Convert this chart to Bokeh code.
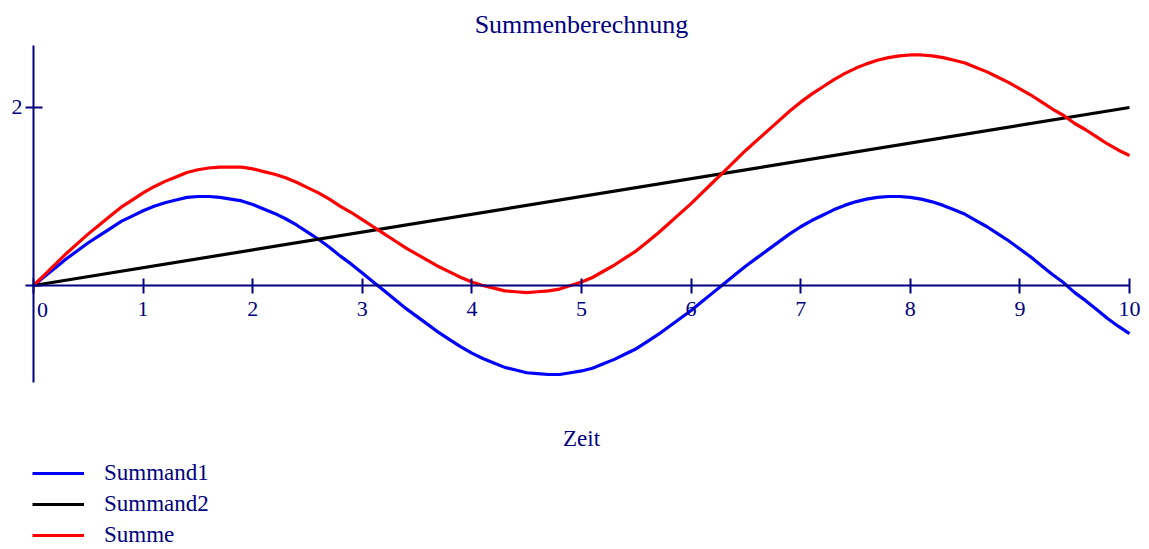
from bokeh.plotting import figure
from bokeh.models import LinearAxis, FixedTicker, Legend, LegendItem, Label, Range1d
from bokeh.embed import file_html
from bokeh.resources import INLINE

# ---- data ----
t = [0.0, 0.1, 0.2, 0.3, 0.4, 0.5, 0.6, 0.7, 0.8, 0.9,
     1.0, 1.1, 1.2, 1.3, 1.4, 1.5, 1.6, 1.7, 1.8, 1.9,
     2.0, 2.1, 2.2, 2.3, 2.4, 2.5, 2.6, 2.7, 2.8, 2.9,
     3.0, 3.1, 3.2, 3.3, 3.4, 3.5, 3.6, 3.7, 3.8, 3.9,
     4.0, 4.1, 4.2, 4.3, 4.4, 4.5, 4.6, 4.7, 4.8, 4.9,
     5.0, 5.1, 5.2, 5.3, 5.4, 5.5, 5.6, 5.7, 5.8, 5.9,
     6.0, 6.1, 6.2, 6.3, 6.4, 6.5, 6.6, 6.7, 6.8, 6.9,
     7.0, 7.1, 7.2, 7.3, 7.4, 7.5, 7.6, 7.7, 7.8, 7.9,
     8.0, 8.1, 8.2, 8.3, 8.4, 8.5, 8.6, 8.7, 8.8, 8.9,
     9.0, 9.1, 9.2, 9.3, 9.4, 9.5, 9.6, 9.7, 9.8, 9.9, 10.0]
summand1 = [0.00, 0.10, 0.20, 0.30, 0.39, 0.48, 0.56, 0.64, 0.72, 0.78,
            0.84, 0.89, 0.93, 0.96, 0.99, 1.00, 1.00, 0.99, 0.97, 0.95,
            0.91, 0.86, 0.81, 0.75, 0.68, 0.60, 0.52, 0.43, 0.33, 0.24,
            0.14, 0.04, -0.06, -0.16, -0.26, -0.35, -0.44, -0.53, -0.61, -0.69,
            -0.76, -0.82, -0.87, -0.92, -0.95, -0.98, -0.99, -1.00, -1.00, -0.98,
            -0.96, -0.93, -0.88, -0.83, -0.77, -0.71, -0.63, -0.55, -0.46, -0.37,
            -0.28, -0.18, -0.08, 0.02, 0.12, 0.22, 0.31, 0.40, 0.49, 0.58,
            0.66, 0.73, 0.79, 0.85, 0.90, 0.94, 0.97, 0.99, 1.00, 1.00,
            0.99, 0.97, 0.94, 0.90, 0.85, 0.80, 0.73, 0.66, 0.58, 0.50,
            0.41, 0.32, 0.22, 0.12, 0.03, -0.08, -0.17, -0.27, -0.37, -0.46, -0.54]
t2 = [0.0, 10.0]
summand2 = [0.0, 2.0]
summe = [0.00, 0.12, 0.24, 0.36, 0.47, 0.58, 0.68, 0.78, 0.88, 0.96,
         1.04, 1.11, 1.17, 1.22, 1.27, 1.30, 1.32, 1.33, 1.33, 1.33,
         1.31, 1.28, 1.25, 1.21, 1.16, 1.10, 1.04, 0.97, 0.89, 0.82,
         0.74, 0.66, 0.58, 0.50, 0.42, 0.35, 0.28, 0.21, 0.15, 0.09,
         0.04, 0.00, -0.03, -0.06, -0.07, -0.08, -0.07, -0.06, -0.04, 0.00,
         0.04, 0.09, 0.16, 0.23, 0.31, 0.39, 0.49, 0.59, 0.70, 0.81,
         0.92, 1.04, 1.16, 1.28, 1.40, 1.52, 1.63, 1.74, 1.85, 1.96,
         2.06, 2.15, 2.23, 2.31, 2.38, 2.44, 2.49, 2.53, 2.56, 2.58,
         2.59, 2.59, 2.58, 2.56, 2.53, 2.50, 2.45, 2.40, 2.34, 2.28,
         2.21, 2.14, 2.06, 1.98, 1.91, 1.82, 1.75, 1.67, 1.59, 1.52, 1.46]
x_ticks = [0, 1, 2, 3, 4, 5, 6, 7, 8, 9, 10]
y_ticks = [0, 2]
series_names = ["Summand1", "Summand2", "Summe"]
title_text = "Summenberechnung"
x_label = "Zeit"

NAVY = "#000080"
FONT = "Liberation Serif"

# frame covers the whole canvas; x=0 at 33px, x=10 at 1129px, y=0 at 285px, y=2 at 107px
p = figure(width=1149, height=549,
           x_range=Range1d(-0.3011, 10.1825), y_range=Range1d(-2.966, 3.202),
           x_axis_type=None, y_axis_type=None, title=None,
           output_backend="svg", toolbar_location=None,
           min_border_left=0, min_border_right=0,
           min_border_top=0, min_border_bottom=0)
p.outline_line_color = None
p.background_fill_color = "white"

xa = LinearAxis(fixed_location=0, ticker=FixedTicker(ticks=x_ticks), bounds=(0, 10),
                major_label_overrides={0: ""})
xa.axis_line_color = NAVY
xa.axis_line_width = 2
xa.major_tick_line_color = NAVY
xa.major_tick_line_width = 2
xa.major_tick_in = 7
xa.major_tick_out = 8
xa.minor_tick_line_color = None
xa.major_label_text_font = FONT
xa.major_label_text_font_size = "22px"
xa.major_label_text_color = NAVY
xa.major_label_standoff = 8
p.add_layout(xa, "below")

ya = LinearAxis(fixed_location=0, ticker=FixedTicker(ticks=y_ticks), bounds=(-1.09, 2.697),
                major_label_overrides={0: ""})
ya.axis_line_color = NAVY
ya.axis_line_width = 2
ya.major_tick_line_color = NAVY
ya.major_tick_line_width = 2
ya.major_tick_in = 9
ya.major_tick_out = 8
ya.minor_tick_line_color = None
ya.major_label_text_font = FONT
ya.major_label_text_font_size = "22px"
ya.major_label_text_color = NAVY
ya.major_label_standoff = 3
p.add_layout(ya, "left")

r1 = p.line(t, summand1, line_color="#0000ff", line_width=3.2, line_join="round")
r2 = p.line(t2, summand2, line_color="#000000", line_width=3.2, line_join="round")
r3 = p.line(t, summe, line_color="#ff0000", line_width=3.2, line_join="round")

title_lbl = Label(x=5.0, y=2.933, text=title_text, text_align="center",
                  text_baseline="middle", text_font=FONT, text_font_size="26px",
                  text_color=NAVY)
p.add_layout(title_lbl)

zero_lbl = Label(x=0, y=-0.27, x_offset=9, text="0", text_align="center",
                 text_baseline="middle", text_font=FONT, text_font_size="22px",
                 text_color=NAVY)
p.add_layout(zero_lbl)

zeit = Label(x=5.0, y=-1.719, text=x_label, text_align="center", text_baseline="middle",
             text_font=FONT, text_font_size="23px", text_color=NAVY)
p.add_layout(zeit)

legend = Legend(items=[LegendItem(label=series_names[0], renderers=[r1]),
                       LegendItem(label=series_names[1], renderers=[r2]),
                       LegendItem(label=series_names[2], renderers=[r3])],
                location=(32, 1), orientation="vertical")
legend.border_line_color = None
legend.background_fill_alpha = 0
legend.padding = 0
legend.margin = 0
legend.spacing = 5
legend.glyph_width = 52
legend.glyph_height = 22
legend.label_height = 22
legend.label_standoff = 20
legend.label_text_font = FONT
legend.label_text_font_size = "23px"
legend.label_text_color = NAVY
p.add_layout(legend, "center")

open("out.html", "w").write(file_html(p, INLINE))
